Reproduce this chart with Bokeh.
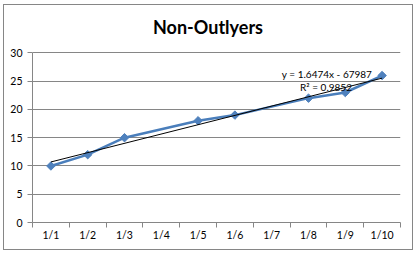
import numpy as np
from bokeh.plotting import figure
from bokeh.models import FixedTicker, Range1d, Label, LinearAxis
from bokeh.embed import file_html
from bokeh.resources import INLINE

# ---- data ----
title_text = "Non-Outlyers"
days = [1, 2, 3, 5, 6, 8, 9, 10]
values = [10, 12, 15, 18, 19, 22, 23, 26]
tick_days = [1, 2, 3, 4, 5, 6, 7, 8, 9, 10]
tick_labels = ["1/1", "1/2", "1/3", "1/4", "1/5", "1/6", "1/7", "1/8", "1/9", "1/10"]
y_ticks = [0, 5, 10, 15, 20, 25, 30]
eq_text = "y = 1.6474x - 67987"
r2_text = "R\u00b2 = 0.9852"

FONT = "Lato"
GRID = "#868686"

# frame spans the full height of the chart box; the value axis 0..30 occupies
# its lower 168 of 215 px, leaving room for the title inside the frame
y_top = y_ticks[-1] * 215.0 / 168.0

p = figure(width=408, height=244, output_backend="svg", toolbar_location=None,
           title=None,
           x_range=Range1d(tick_days[0] - 0.5, tick_days[-1] + 0.5),
           y_range=Range1d(y_ticks[0], y_top),
           min_border_left=28, min_border_right=14, min_border_top=0, min_border_bottom=29,
           margin=(4, 0, 0, 3))
p.styles = {"border": "1px solid " + GRID, "box-sizing": "content-box"}
p.outline_line_color = None
p.background_fill_color = "white"
p.border_fill_color = "white"

# y axis
p.yaxis.ticker = FixedTicker(ticks=y_ticks)
p.yaxis.bounds = (y_ticks[0], y_ticks[-1])
p.ygrid.ticker = FixedTicker(ticks=y_ticks)
p.ygrid.grid_line_color = GRID
p.xgrid.visible = False
p.yaxis.major_tick_out = 5
p.yaxis.major_tick_in = 0
p.yaxis.minor_tick_out = 0
p.yaxis.minor_tick_in = 0
p.yaxis.major_label_standoff = 5

# x axis: tick marks at category boundaries, labels at category centres
bounds = [d - 0.5 for d in tick_days] + [tick_days[-1] + 0.5]
p.xaxis.ticker = FixedTicker(ticks=bounds)
p.xaxis.major_label_overrides = {b: "" for b in bounds}
p.xaxis.major_label_text_font_size = "0px"
p.xaxis.major_label_standoff = 0
p.xaxis.major_tick_out = 5
p.xaxis.major_tick_in = 0
p.xaxis.minor_tick_out = 0
p.xaxis.minor_tick_in = 0

xlab = LinearAxis(ticker=FixedTicker(ticks=tick_days),
                  major_label_overrides={d: s for d, s in zip(tick_days, tick_labels)},
                  axis_line_color=None, major_tick_out=0, major_tick_in=0,
                  minor_tick_out=0, minor_tick_in=0, major_label_standoff=1)
p.add_layout(xlab, "below")

for ax in (p.xaxis[0], p.yaxis[0]):
    ax.axis_line_color = GRID
    ax.major_tick_line_color = GRID
    ax.minor_tick_line_color = GRID
for ax in (xlab, p.yaxis[0]):
    ax.major_label_text_font = FONT
    ax.major_label_text_font_size = "10.5px"
    ax.major_label_text_color = "#000000"

# series
p.line(days, values, line_color="#4A7EBB", line_width=2.5)
p.scatter(days, values, marker="square", angle=np.pi / 4, size=6,
          fill_color="#4F81BD", line_color="#4F81BD")

# linear trendline
coef = np.polyfit(days, values, 1)
tx = [days[0], days[-1]]
ty = list(np.polyval(coef, tx))
p.line(tx, ty, line_color="black", line_width=1)

p.add_layout(Label(x=175.5, y=196, x_units="screen", y_units="screen", text=title_text,
                   text_align="center", text_baseline="middle", text_font=FONT,
                   text_font_style="bold", text_font_size="18px", text_color="black"))
p.add_layout(Label(x=294.5, y=149, x_units="screen", y_units="screen", text=eq_text,
                   text_align="center", text_baseline="middle", text_font=FONT,
                   text_font_size="10px", text_color="black"))
p.add_layout(Label(x=293.5, y=136, x_units="screen", y_units="screen", text=r2_text,
                   text_align="center", text_baseline="middle", text_font=FONT,
                   text_font_size="10px", text_color="black"))

open("out.html", "w").write(file_html(p, INLINE))
